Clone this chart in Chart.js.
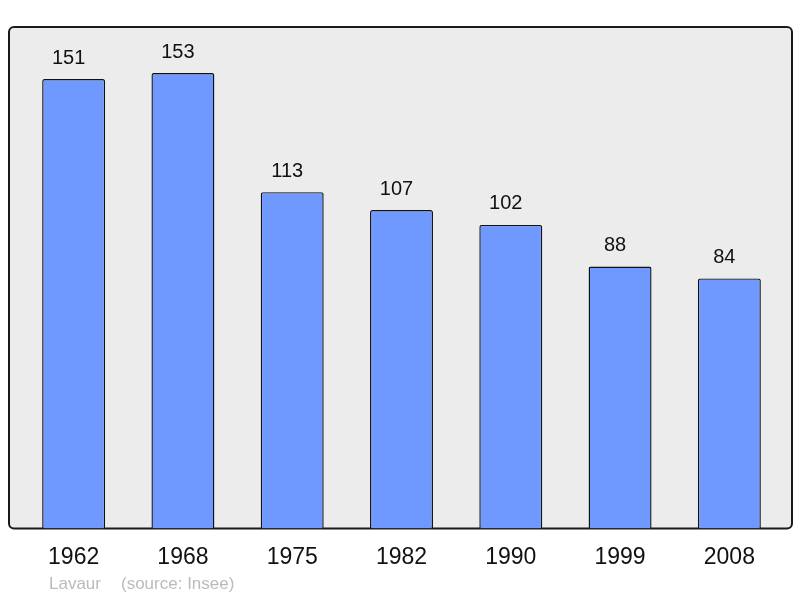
<!DOCTYPE html>
<html>
<head>
<meta charset="utf-8">
<script src="https://cdn.jsdelivr.net/npm/chart.js@4/dist/chart.umd.min.js"></script>
<style>
  html, body { margin: 0; padding: 0; background: #fff; }
  #wrap { width: 800px; height: 598px; }
</style>
</head>
<body>
<div id="wrap"><canvas id="chart" width="800" height="598"></canvas></div>
<script>
// population per census year
const years = ['1962', '1968', '1975', '1982', '1990', '1999', '2008'];
const population = [151, 153, 113, 107, 102, 88, 84];
const townName = 'Lavaur';
const sourceNote = '(source: Insee)';

// grey rounded frame behind the bars
const framePlugin = {
  id: 'frame',
  beforeDraw(chart) {
    const { ctx, chartArea } = chart;
    const x = chartArea.left - 10, y = chartArea.top;
    const w = chartArea.right + 8 - x, h = chartArea.bottom - y;
    ctx.save();
    ctx.beginPath();
    ctx.roundRect(x, y, w, h, 5);
    ctx.fillStyle = '#ececec';
    ctx.fill();
    ctx.lineWidth = 2;
    ctx.strokeStyle = '#1a1a1a';
    ctx.stroke();
    ctx.restore();
  }
};

// numbers above bars + footer note
const labelPlugin = {
  id: 'labels',
  afterDatasetsDraw(chart) {
    const { ctx } = chart;
    ctx.save();
    ctx.font = '20px "Liberation Sans", Arial, sans-serif';
    ctx.fillStyle = '#111';
    ctx.textAlign = 'center';
    ctx.textBaseline = 'middle';
    chart.getDatasetMeta(0).data.forEach((bar, i) => {
      ctx.fillText(String(population[i]), bar.x - 5, bar.y - 21);
    });
    ctx.font = '17px "Liberation Sans", Arial, sans-serif';
    ctx.fillStyle = '#bbbbbb';
    ctx.textAlign = 'left';
    ctx.fillText(townName, 49, 584);
    ctx.fillText(sourceNote, 121, 584);
    ctx.restore();
  }
};

new Chart(document.getElementById('chart'), {
  type: 'bar',
  data: {
    labels: years,
    datasets: [{
      data: population,
      backgroundColor: '#7099ff',
      borderColor: '#111',
      borderWidth: 1.4,
      borderSkipped: 'bottom',
      borderRadius: 2,
      categoryPercentage: 1,
      barPercentage: 0.576
    }]
  },
  options: {
    responsive: false,
    animation: false,
    layout: { padding: { left: 19, right: 16, top: 27, bottom: 12 } },
    plugins: { legend: { display: false }, tooltip: { enabled: false } },
    scales: {
      x: {
        grid: { display: false, drawTicks: false },
        border: { display: false },
        ticks: {
          padding: 15,
          color: '#111',
          font: { family: '"Liberation Sans", Arial, sans-serif', size: 23 }
        }
      },
      y: { display: false, min: 0, max: 168.5 }
    }
  },
  plugins: [framePlugin, labelPlugin]
});
</script>
</body>
</html>
